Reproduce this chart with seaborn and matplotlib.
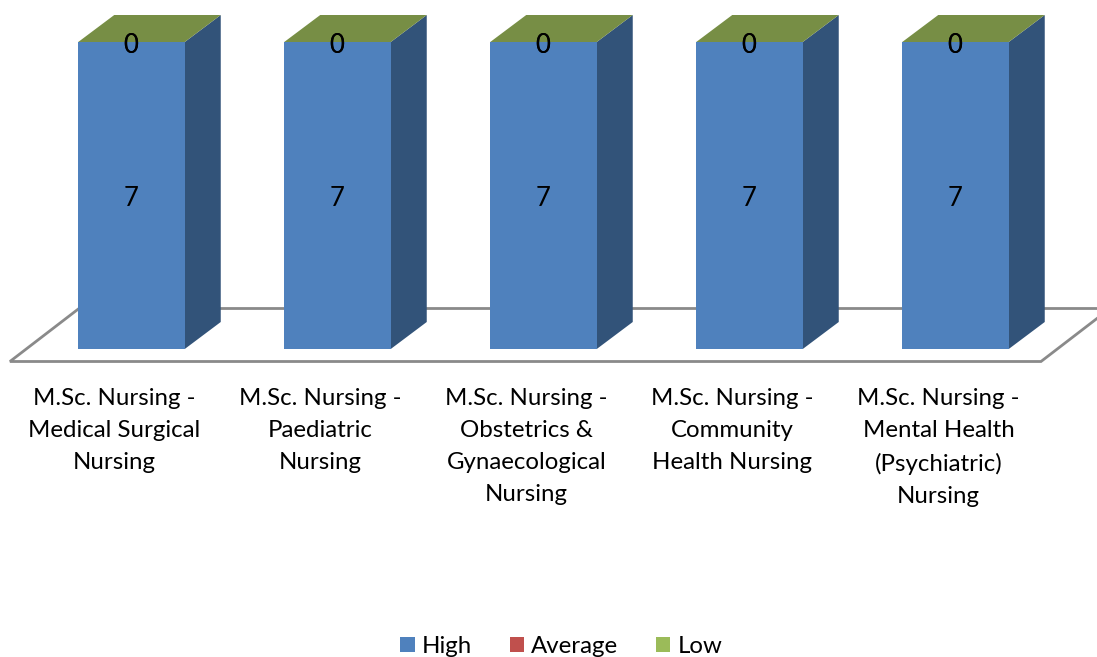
import matplotlib
matplotlib.use("Agg")
import matplotlib.pyplot as plt
from matplotlib.patches import Polygon
from matplotlib.transforms import ScaledTranslation
import pandas as pd
import seaborn as sns

programs = [
    "M.Sc. Nursing -\nMedical Surgical\nNursing",
    "M.Sc. Nursing -\nPaediatric\nNursing",
    "M.Sc. Nursing -\nObstetrics &\nGynaecological\nNursing",
    "M.Sc. Nursing -\nCommunity\nHealth Nursing",
    "M.Sc. Nursing -\nMental Health\n(Psychiatric)\nNursing",
]
high = [7, 7, 7, 7, 7]
average = [0, 0, 0, 0, 0]
low = [0, 0, 0, 0, 0]
series_names = ["High", "Average", "Low"]
series_colors = ["#4F81BD", "#C0504D", "#9BBB59"]

W, H = 1097, 657
PX_X = 206.0      # pixels per category
PX_Y = 307 / 7    # pixels per value unit
AX_BOTTOM = 363

sns.set_theme(style="white")
plt.rcParams["font.family"] = ["Lato", "DejaVu Sans"]

df = pd.DataFrame({"program": programs, "High": high, "Average": average, "Low": low})

fig = plt.figure(figsize=(W / 100, H / 100), dpi=100)
ax = fig.add_axes([0, (H - AX_BOTTOM) / H, 1, AX_BOTTOM / H])
ax.patch.set_alpha(0)

bottoms = [0] * len(programs)
for name, color in zip(series_names, series_colors):
    sns.barplot(data=df, x="program", y=name, bottom=bottoms, color=color,
                saturation=1, width=0.517, linewidth=0, label=name, legend=False,
                ax=ax, zorder=3)
    bottoms = [b + v for b, v in zip(bottoms, df[name])]

ax.set_xlim(-131.5 / PX_X, (W - 131.5) / PX_X)
ax.set_ylim(-(AX_BOTTOM - 349) / PX_Y, 349 / PX_Y)

# perspective offsets of the chart's depth, in data units
DX, DY = 36 / PX_X, 27 / PX_Y

# floor
fl, fr = -0.59, 4.415
fy, by = -12.5 / PX_Y, 40.5 / PX_Y
sx = 69 / PX_X
ax.add_patch(Polygon([(fl, fy), (fl + sx, by), (fr + sx, by), (fr, fy)], closed=True,
                     facecolor="white", edgecolor="#8A8A8A", linewidth=2.0,
                     joinstyle="miter", zorder=1, clip_on=False))

# side and top faces
for i, bar in enumerate(ax.containers[0]):
    x0, x1 = bar.get_x(), bar.get_x() + bar.get_width()
    ytop = bar.get_height()
    ax.add_patch(Polygon([(x1, 0), (x1 + DX, DY), (x1 + DX, ytop + DY), (x1, ytop)],
                         closed=True, facecolor="#325379", edgecolor="none", zorder=2))
    ax.add_patch(Polygon([(x0, ytop), (x0 + DX, ytop + DY), (x1 + DX, ytop + DY), (x1, ytop)],
                         closed=True, facecolor="#778E45", edgecolor="none", zorder=2))

for container in ax.containers:
    for t in ax.bar_label(container, fmt="%d", label_type="center", fontsize=18.5,
                          color="black", zorder=5):
        t.xyann = (-0.4, -2.2)

sns.despine(ax=ax, left=True, bottom=True)
ax.set_xlabel("")
ax.set_ylabel("")
ax.set_yticks([])
ax.tick_params(axis="x", length=0, pad=18, labelsize=17.3, colors="black")
offset = ScaledTranslation(-17 / 100, 0, fig.dpi_scale_trans)
for lab in ax.get_xticklabels():
    lab.set_transform(lab.get_transform() + offset)
    lab.set_linespacing(1.65)
    lab.set_color("black")

handles = [c[0] for c in ax.containers]
fig.legend(handles, series_names, loc="lower center", bbox_to_anchor=(0.5118, 0.0),
           ncol=3, frameon=False, fontsize=17.3, handlelength=0.6, handleheight=0.6,
           handletextpad=0.3, columnspacing=1.56, borderpad=0, borderaxespad=0,
           labelcolor="black")

fig.savefig("out.png", dpi=100, facecolor="white")
